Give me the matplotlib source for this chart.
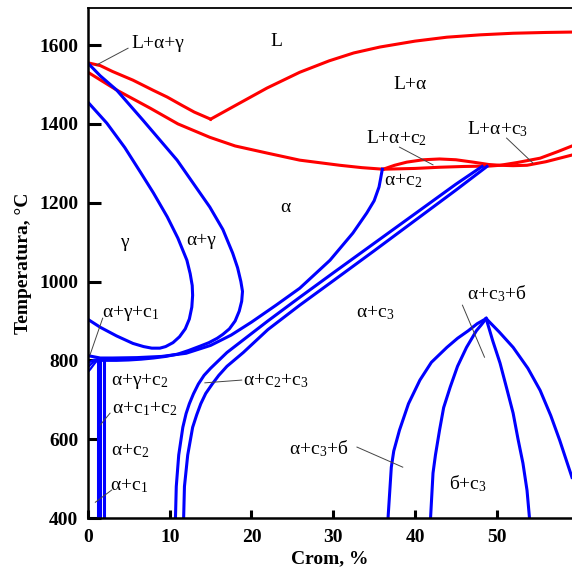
import matplotlib
matplotlib.use('Agg')
import matplotlib.pyplot as plt

plt.rcParams['font.family'] = ['Liberation Serif', 'DejaVu Serif']
plt.rcParams['mathtext.fontset'] = 'custom'
plt.rcParams['mathtext.rm'] = 'Liberation Serif'
plt.rcParams['mathtext.it'] = 'Liberation Serif:italic'

# --- red lines: liquidus / solidus ---
liq_left_x = [0.2, 1.5, 3.0, 5.5, 8.0, 9.7, 11.5, 13.0, 15.0]
liq_left_t = [1554, 1548, 1533, 1511, 1485, 1468, 1447, 1430, 1412]
liq_right_x = [15.0, 17.7, 21.9, 25.9, 29.5, 32.5, 35.7, 40.0, 43.9, 48.0, 52.0, 56.0, 59.2]
liq_right_t = [1412, 1443, 1491, 1531, 1560, 1580, 1595, 1610, 1620, 1626, 1630, 1632, 1633]

sol_x = [0, 3.5, 7.6, 11.0, 14.9, 18.0, 21.9, 25.9, 30.8, 33.5, 36.1]
sol_t = [1531, 1486, 1440, 1400, 1366, 1344, 1326, 1308, 1295, 1289, 1285]
sol_low_x = [36.1, 40.0, 43.0, 46.0, 49.1, 50.4, 52.0, 53.7, 56.0, 59.2]
sol_low_t = [1285, 1287, 1290, 1292, 1293, 1295, 1294, 1295, 1304, 1321]
sol_up_x = [36.1, 37.5, 39.0, 41.0, 43.0, 45.0, 47.1, 49.0, 50.4, 52.5, 55.3, 57.5, 59.2]
sol_up_t = [1285, 1295, 1303, 1309, 1311, 1309, 1303, 1297, 1295, 1302, 1313, 1330, 1344]

# --- blue lines: solid state boundaries ---
# alpha / alpha+gamma loop
ag_x = [0, 1.5, 3.5, 6.7, 10.9, 14.9, 16.5, 17.7, 18.3, 18.7, 18.9, 18.8, 18.5,
        18.0, 17.3, 16.5, 15.8, 14.8, 13.7, 12.3, 11.0, 9.5, 8.0, 6.5, 5.0, 3.5, 1.6]
ag_t = [1554, 1522, 1486, 1410, 1308, 1189, 1132, 1072, 1035, 1000, 975, 950, 925,
        900, 880, 866, 856, 845, 836, 825, 816, 810, 806, 803, 801, 800, 800]

# gamma loop
g_x = [0, 2.3, 4.5, 6.4, 8.0, 9.7, 11.0, 12.1, 12.5, 12.75, 12.8, 12.7, 12.4,
       11.9, 11.2, 10.4, 9.5, 8.8, 7.8, 6.8, 5.5, 3.5, 1.5, 0]
g_t = [1455, 1402, 1340, 1278, 1225, 1164, 1110, 1054, 1020, 990, 965, 935, 905,
       880, 860, 845, 835, 831, 831, 835, 843, 862, 884, 904]

# alpha / alpha+c2
a_x = [36.0, 35.8, 35.6, 35.0, 34.1, 32.4, 29.6, 25.9, 23.0, 20.0, 17.5, 15.0,
       12.0, 9.0, 6.0, 3.0, 1.5, 0]
a_t = [1285, 1262, 1240, 1205, 1174, 1123, 1054, 983, 940, 897, 864, 838,
       818, 810, 807, 806, 806, 812]

# alpha+c2+c3 field
c23_left_x = [10.7, 10.8, 11.1, 11.6, 12.0, 12.4, 12.9, 13.5, 14.2, 15.0, 16.0,
              17.0, 19.5, 22.0, 25.9, 30.0, 35.0, 40.0, 45.0, 48.2]
c23_left_t = [400, 480, 560, 630, 665, 690, 715, 740, 762, 780, 800,
              820, 860, 900, 960, 1022, 1097, 1172, 1247, 1292]
c23_right_x = [11.7, 11.8, 12.2, 12.8, 13.3, 13.8, 14.4, 15.2, 16.0, 17.0, 19.0,
               22.0, 25.9, 30.0, 35.0, 40.0, 45.0, 48.8]
c23_right_t = [400, 480, 560, 630, 662, 690, 716, 740, 762, 785, 820,
               878, 940, 1002, 1078, 1155, 1232, 1292]

# low-chromium carbide fields
vert_x = [1.25, 1.5, 1.95]
vert_top = [803, 803, 801]

arc1_x = [0, 0.3, 0.7, 1.25]
arc1_t = [792, 797, 801, 803]
arc2_x = [0, 0.3, 0.7, 1.25]
arc2_t = [782, 789, 797, 803]
arc3_x = [0, 0.3, 0.8, 1.25]
arc3_t = [771, 778, 792, 803]

# sigma field
s_out_l_x = [48.7, 47.6, 46.5, 45.2, 43.9, 42.0, 40.6, 39.2, 38.1, 37.4, 37.1, 36.7]
s_out_l_t = [906, 893, 875, 856, 833, 795, 750, 690, 623, 570, 529, 400]
s_in_l_x = [48.7, 48.1, 47.5, 46.3, 45.2, 44.3, 43.5, 43.0, 42.5, 42.2, 41.9]
s_in_l_t = [906, 890, 875, 833, 785, 732, 680, 623, 560, 514, 400]
s_in_r_x = [48.7, 49.5, 50.4, 51.2, 52.0, 52.6, 53.2, 53.7, 54.0]
s_in_r_t = [906, 850, 793, 730, 666, 600, 539, 470, 400]
s_out_r_x = [48.7, 50.3, 52.0, 53.8, 55.3, 56.6, 57.7, 59.2]
s_out_r_t = [906, 872, 833, 780, 724, 660, 597, 503]

fig = plt.figure(figsize=(5.72, 5.69), dpi=100)
ax = fig.add_axes([0.1538, 0.0896, 0.8462, 0.8963])

red = '#ff0000'
blue = '#0000ff'
lw = 2.2

ax.plot(liq_left_x, liq_left_t, color=red, lw=lw)
ax.plot(liq_right_x, liq_right_t, color=red, lw=lw)
ax.plot(sol_x, sol_t, color=red, lw=lw)
ax.plot(sol_low_x, sol_low_t, color=red, lw=lw)
ax.plot(sol_up_x, sol_up_t, color=red, lw=lw)

for xs, ts in [(ag_x, ag_t), (g_x, g_t), (a_x, a_t),
               (c23_left_x, c23_left_t), (c23_right_x, c23_right_t),
               (s_out_l_x, s_out_l_t), (s_in_l_x, s_in_l_t),
               (s_in_r_x, s_in_r_t), (s_out_r_x, s_out_r_t)]:
    ax.plot(xs, ts, color=blue, lw=lw, solid_joinstyle='round')
for xs, ts in [(arc1_x, arc1_t), (arc2_x, arc2_t), (arc3_x, arc3_t)]:
    ax.plot(xs, ts, color=blue, lw=1.6)
for x, top in zip(vert_x, vert_top):
    ax.plot([x, x], [400, top], color=blue, lw=lw)

# phase labels
fs = 14
labels = [
    ('L', 23.1, 1608), ('L+α', 39.4, 1499), ('α', 24.1, 1189),
    ('γ', 4.5, 1100), ('α+γ', 13.9, 1105), ('α+c$_2$', 38.6, 1255),
    ('α+γ+c$_2$', 6.4, 748), ('α+c$_2$', 5.1, 571), ('α+c$_3$', 35.1, 920),
    ('б+c$_3$', 46.5, 488),
]
for txt, x, y in labels:
    ax.text(x, y, txt, fontsize=fs, ha='center', va='center')

# labels with leader lines
pointers = [
    ('L+α+γ', (8.5, 1605), (4.9, 1592), (1.0, 1549)),
    ('L+α+c$_2$', (37.7, 1365), (38.1, 1341), (42.2, 1296)),
    ('L+α+c$_3$', (50.1, 1387), (51.2, 1364), (54.4, 1301)),
    ('α+γ+c$_1$', (5.3, 921), (1.8, 907), (0.25, 814)),
    ('α+c$_1$+c$_2$', (6.9, 677), (2.7, 666), (1.5, 636)),
    ('α+c$_1$', (5.0, 482), (2.9, 471), (0.9, 440)),
    ('α+c$_2$+c$_3$', (23.0, 748), (18.8, 750), (14.3, 743)),
    ('α+c$_3$+б', (50.0, 969), (45.8, 940), (48.5, 808)),
    ('α+c$_3$+б', (28.2, 576), (32.9, 580), (38.5, 529)),
]
for txt, pos, p0, p1 in pointers:
    ax.text(pos[0], pos[1], txt, fontsize=fs, ha='center', va='center')
    ax.plot([p0[0], p1[0]], [p0[1], p1[1]], color='#444444', lw=0.7)

ax.set_xlim(0, 59.2)
ax.set_ylim(400, 1694)
ax.set_xticks([0, 10, 20, 30, 40, 50])
ax.set_yticks([400, 600, 800, 1000, 1200, 1400, 1600])
ax.tick_params(axis='y', direction='in', length=9, width=2.2, pad=7,
               labelsize=14)
ax.tick_params(axis='x', direction='in', length=6, width=2.2, pad=8,
               labelsize=14)
for lab in ax.get_xticklabels() + ax.get_yticklabels():
    lab.set_fontweight('bold')

ax.spines['right'].set_visible(False)
ax.spines['left'].set_linewidth(1.8)
ax.spines['bottom'].set_linewidth(1.8)
ax.spines['top'].set_linewidth(1.3)

ax.set_xlabel('Crom, %', fontsize=14, fontweight='bold')
ax.xaxis.set_label_coords(0.5, -0.064)
ax.set_ylabel('Temperatura, °C', fontsize=14, fontweight='bold')
ax.yaxis.set_label_coords(-0.115, 0.5)

fig.savefig('out.png', dpi=100)
